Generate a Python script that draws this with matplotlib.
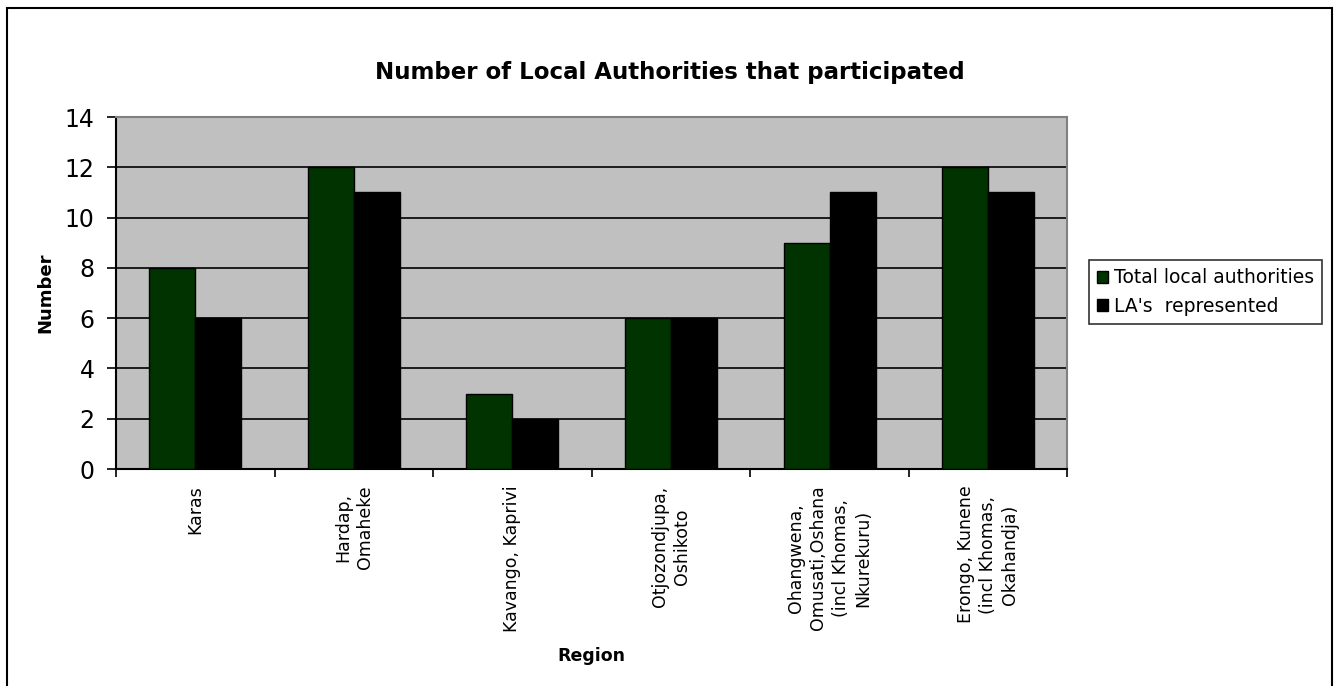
import numpy as np
import matplotlib.pyplot as plt
from matplotlib.patches import Rectangle

regions = ["Karas", "Hardap,\nOmaheke", "Kavango, Kaprivi", "Otjozondjupa,\nOshikoto",
           "Ohangwena,\nOmusati,Oshana\n(incl Khomas,\nNkurekuru)",
           "Erongo, Kunene\n(incl Khomas,\nOkahandja)"]
total_la = [8, 12, 3, 6, 9, 12]
represented_la = [6, 11, 2, 6, 11, 11]
series_names = ["Total local authorities", "LA's  represented"]

plt.rcParams['font.family'] = ['DejaVu Sans']

fig = plt.figure(figsize=(13.4, 6.86), dpi=100)
ax = fig.add_axes([0.0866, 0.3163, 0.7100, 0.5131])
ax.set_facecolor('#C0C0C0')

x = np.arange(len(regions))
w = 0.29
ax.bar(x - w/2, total_la, w, color='#003300', edgecolor='black', linewidth=1,
       label=series_names[0], zorder=3)
ax.bar(x + w/2, represented_la, w, color='black', edgecolor='black', linewidth=1,
       label=series_names[1], zorder=3)

ax.set_xlim(-0.5, len(regions) - 0.5)
ax.set_ylim(0, 14)
ax.set_yticks(range(0, 15, 2))
ax.yaxis.grid(True, color='black', linewidth=1.2, zorder=1)
ax.set_axisbelow(True)
ax.tick_params(axis='y', labelsize=17, direction='out', length=6.5, width=1.2, pad=9)

ax.set_xticks(x)
ax.set_xticklabels(regions, rotation=90, fontsize=12.5, ha='center', va='top',
                   multialignment='center', linespacing=1.3)
ax.set_xticks(np.arange(-0.5, len(regions), 1), minor=True)
ax.tick_params(axis='x', which='major', length=0, pad=12)
ax.tick_params(axis='x', which='minor', length=6, width=1.2, direction='out')

for s in ['top', 'right']:
    ax.spines[s].set_color('#808080')
    ax.spines[s].set_linewidth(1.5)
for s in ['left', 'bottom']:
    ax.spines[s].set_color('black')
    ax.spines[s].set_linewidth(1.5)

ax.set_ylabel('Number', fontsize=13, fontweight='bold')
ax.yaxis.set_label_coords(-0.065, 0.5)
ax.set_xlabel('Region', fontsize=12.5, fontweight='bold')
ax.xaxis.set_label_coords(0.5, -0.505)

fig.text(0.5, 0.895, 'Number of Local Authorities that participated',
         ha='center', va='center', fontsize=16.5, fontweight='bold')

leg = fig.legend(loc='center', bbox_to_anchor=(0.8996, 0.5744), fontsize=13.5,
                 frameon=True, fancybox=False, edgecolor='black',
                 handlelength=0.6, handleheight=0.6, handletextpad=0.3,
                 borderpad=0.45, labelspacing=0.5, borderaxespad=0)
leg.get_frame().set_linewidth(1.2)

fig.patches.append(Rectangle((0.0052, -0.01), 0.989, 0.998, transform=fig.transFigure,
                             fill=False, edgecolor='black', linewidth=1.5))

fig.savefig('out.png', dpi=100)
